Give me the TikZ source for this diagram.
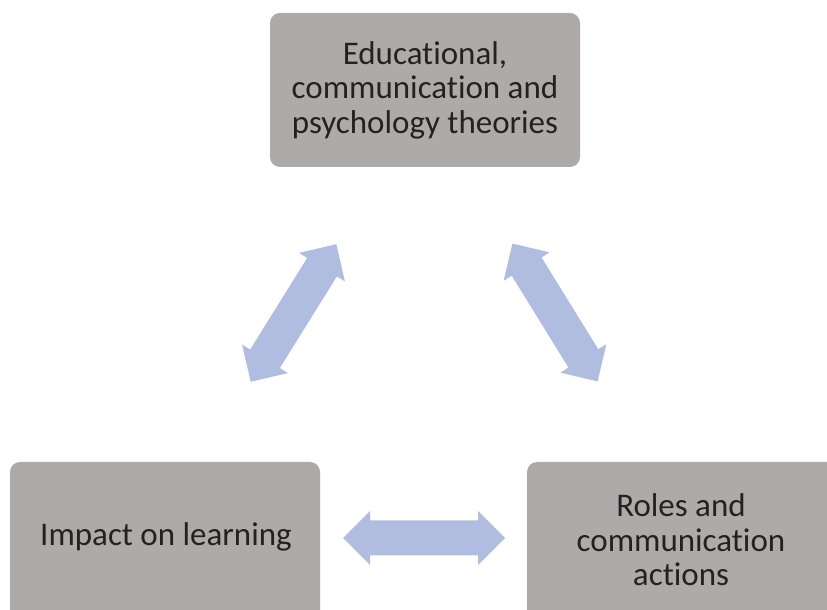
\documentclass[tikz,border=0pt]{standalone}
\usepackage{fontspec}
\setmainfont[Ligatures={NoCommon}]{Carlito}
\definecolor{boxgray}{HTML}{AEAAAA}
\definecolor{arrowblue}{RGB}{176,189,224}
\definecolor{txt}{HTML}{222222}
\begin{document}
\begin{tikzpicture}[x=1pt,y=1pt,
  box/.style={fill=boxgray,draw=none,rounded corners=10pt},
  lbl/.style={align=center,text=txt,font=\fontsize{33}{34.5}\selectfont,inner sep=0pt},
  blockarrow/.style={fill=arrowblue,draw=none}]
\useasboundingbox (0,0) rectangle (827,610);
\clip (0,0) rectangle (827,610);
% boxes
\path[box] (270,443) rectangle (580,597);
\path[box] (10,-15) rectangle (320,148);
\path[box] (527,-15) rectangle (845,148);
\node[lbl] (top) at (425,520) {Educational,\\communication and\\psychology theories};
\node[lbl] (left) at (166,73) {Impact on learning};
\node[lbl] (right) at (681,70) {Roles and\\communication\\actions};
% centres of the block arrows
\coordinate (a1) at (293.5,297);
\coordinate (a2) at (555,297.5);
\coordinate (a3) at (424,72);
\foreach \c/\ang in {a1/58.1,a2/-58.3,a3/0}{
  \path[blockarrow,shift={(\c)},rotate=\ang]
    (-81,0) -- (-54,27) -- (-54,17.5) -- (54,17.5) -- (54,27) -- (81,0)
    -- (54,-27) -- (54,-17.5) -- (-54,-17.5) -- (-54,-27) -- cycle;
}
\end{tikzpicture}
\end{document}
